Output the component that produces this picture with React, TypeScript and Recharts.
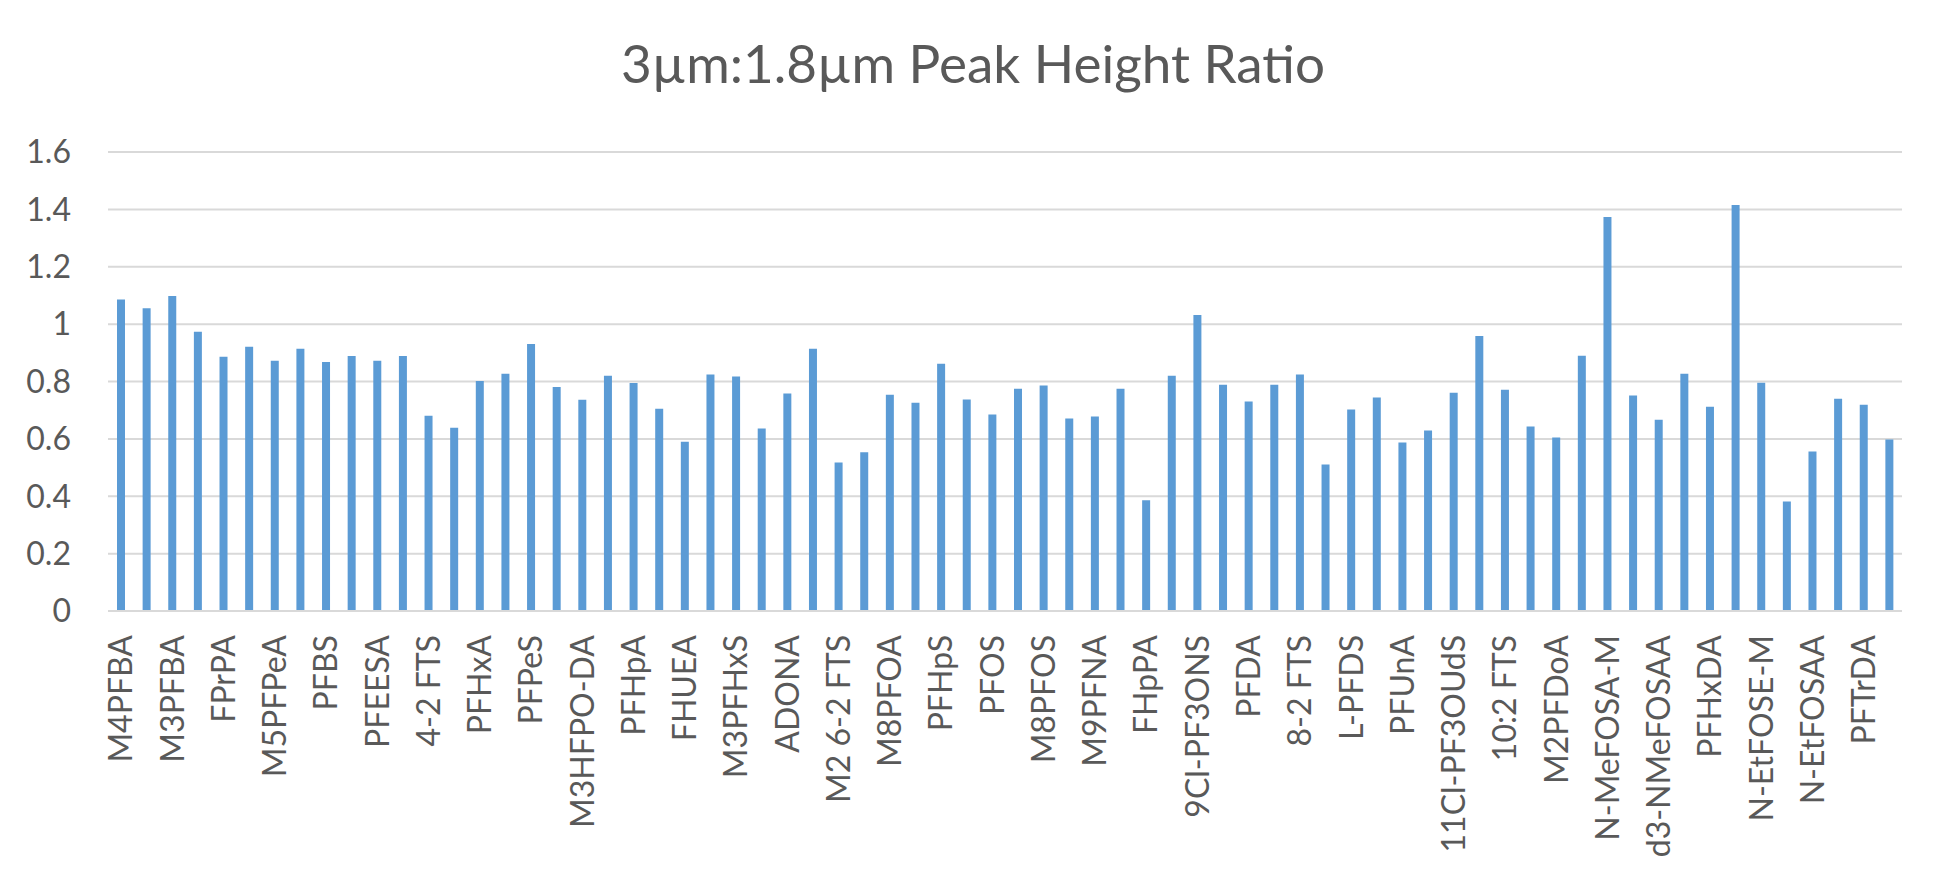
import React from "react";
import { BarChart, Bar, XAxis, YAxis, CartesianGrid } from "recharts";

// compounds in run order (only every other one is labelled on the axis)
const compounds = [
  "M4PFBA", "PFBA", "M3PFBA", "PFMPA", "FPrPA", "PFPeA", "M5PFPeA", "PFMBA",
  "PFBS", "M3PFBS", "PFEESA", "NFDHA", "4-2 FTS", "M2 4-2 FTS", "PFHxA", "M5PFHxA",
  "PFPeS", "HFPO-DA", "M3HFPO-DA", "FPePA", "PFHpA", "M4PFHpA", "FHUEA", "PFHxS",
  "M3PFHxS", "6-2 FTS", "ADONA", "PFOA", "M2 6-2 FTS", "FHEA", "M8PFOA", "FOUEA",
  "PFHpS", "PFNA", "PFOS", "FOEA", "M8PFOS", "FDEA", "M9PFNA", "FDUEA",
  "FHpPA", "M6PFDA", "9Cl-PF3ONS", "PFNS", "PFDA", "M7PFUnA", "8-2 FTS", "M2 8-2 FTS",
  "L-PFDS", "PFOSA", "PFUnA", "M8FOSA", "11Cl-PF3OUdS", "N-MeFOSAA", "10:2 FTS", "PFDoA",
  "M2PFDoA", "N-MeFOSA", "N-MeFOSA-M", "N-MeFOSE", "d3-NMeFOSAA", "d7-NMeFOSE", "PFHxDA", "PFTeDA",
  "N-EtFOSE-M", "N-EtFOSA", "N-EtFOSAA", "d5-NEtFOSAA", "PFTrDA", "PFODA",
];

const ratios = [
  1.086, 1.055, 1.098, 0.973, 0.886, 0.921, 0.872, 0.914,
  0.868, 0.889, 0.872, 0.889, 0.681, 0.639, 0.802, 0.827,
  0.931, 0.781, 0.736, 0.82, 0.795, 0.705, 0.59, 0.824,
  0.817, 0.636, 0.758, 0.914, 0.518, 0.553, 0.754, 0.726,
  0.862, 0.737, 0.685, 0.775, 0.786, 0.671, 0.678, 0.775,
  0.386, 0.82, 1.032, 0.789, 0.73, 0.789, 0.824, 0.511,
  0.702, 0.744, 0.587, 0.629, 0.761, 0.959, 0.771, 0.643,
  0.605, 0.89, 1.373, 0.751, 0.667, 0.827, 0.712, 1.415,
  0.796, 0.382, 0.556, 0.74, 0.719, 0.598,
];

const yTicks = [0, 0.2, 0.4, 0.6, 0.8, 1, 1.2, 1.4, 1.6];

const data = compounds.map((name, i) => ({ name, ratio: ratios[i] }));

const FONT = "Lato, 'Open Sans', sans-serif";
const GREY = "#595959";

const RotatedTick = (props: any) => {
  const { x, y, payload } = props;
  return (
    <text
      x={x}
      y={y}
      transform={`rotate(-90, ${x}, ${y})`}
      textAnchor="end"
      dy="0.36em"
      fill={GREY}
      fontSize={32}
      fontFamily={FONT}
    >
      {payload.value}
    </text>
  );
};

export default function App() {
  return (
    <div style={{ position: "absolute", left: 0, top: 0, width: 1946, height: 888, background: "#fff" }}>
      <div
        style={{
          position: "absolute",
          left: 0,
          top: 36,
          width: 1946,
          textAlign: "center",
          fontFamily: FONT,
          fontSize: 53,
          lineHeight: "53px",
          color: GREY,
        }}
      >
        3µm:1.8µm Peak Height Ratio
      </div>
      <BarChart
        width={1946}
        height={880}
        data={data}
        margin={{ top: 152, right: 44, left: 0, bottom: 0 }}
        barSize={8}
      >
        <CartesianGrid vertical={false} stroke="#d9d9d9" strokeWidth={2} />
        <XAxis
          dataKey="name"
          interval={1}
          height={269}
          tickLine={false}
          tickSize={0}
          tickMargin={24}
          axisLine={{ stroke: "#d9d9d9", strokeWidth: 2 }}
          tick={<RotatedTick />}
        />
        <YAxis
          width={108}
          domain={[0, 1.6]}
          ticks={yTicks}
          axisLine={false}
          tickLine={false}
          tickSize={0}
          tickMargin={37}
          tick={{ fill: GREY, fontSize: 32, fontFamily: FONT }}
        />
        <Bar dataKey="ratio" fill="#5B9BD5" isAnimationActive={false} />
      </BarChart>
    </div>
  );
}
